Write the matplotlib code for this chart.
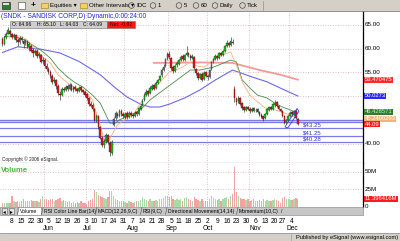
import numpy as np
import pandas as pd
import matplotlib
matplotlib.use("Agg")
import matplotlib.pyplot as plt
from matplotlib.patches import Rectangle, Circle, Polygon

plt.rcParams['font.family'] = ['Liberation Sans', 'DejaVu Sans']

# trading days May 1 - Dec 7 2006
holidays = ['2006-05-29', '2006-07-04', '2006-09-04', '2006-11-23']
days = pd.bdate_range('2006-05-01', '2006-12-07')
days = days[~days.isin(pd.to_datetime(holidays))]

opens = [
    62.0, 61.0, 62.4, 63.2, 63.8,   # May 1
    63.0, 62.4, 62.9, 61.8, 61.4,   # May 8
    62.3, 61.7, 61.1, 61.5, 60.4,   # May 15
    60.6, 59.7, 59.1, 59.6, 58.5,   # May 22
    58.6, 57.3, 57.7, 56.4,         # May 30
    55.7, 55.1, 54.3, 53.2, 53.3,   # Jun 5
    52.2, 50.4, 50.3, 51.5, 51.3,   # Jun 12
    52.1, 51.4, 52.4, 51.2, 51.9,   # Jun 19
    51.5, 51.0, 51.9, 51.2, 50.9,   # Jun 26
    50.4, 49.6, 48.4, 48.1,         # Jul 3
    47.3, 44.8, 45.9, 43.4, 41.2,   # Jul 10
    39.7, 40.5, 41.9, 40.2, 38.0,   # Jul 17
    44.0, 45.4, 46.3, 45.9, 46.9,   # Jul 24
    46.3, 45.6, 46.4, 45.6, 46.5,   # Jul 31
    46.1, 45.8, 46.6, 46.3, 47.2,   # Aug 7
    48.1, 49.2, 50.2, 51.0, 50.6,   # Aug 14
    51.6, 52.3, 51.7, 52.7, 53.4,   # Aug 21
    54.4, 55.6, 56.3, 57.9, 58.9,   # Aug 28
    58.0, 56.1, 55.2, 56.5,         # Sep 5
    56.8, 57.7, 58.4, 57.7, 58.7,   # Sep 11
    59.1, 58.5, 58.1, 58.2, 55.8,   # Sep 18
    54.9, 53.9, 54.7, 53.6, 55.0,   # Sep 25
    54.2, 54.0, 55.7, 57.3, 57.9,   # Oct 2
    58.4, 58.1, 59.1, 58.6, 59.6,   # Oct 9
    60.6, 61.1, 60.7, 61.5, 51.6,   # Oct 16
    49.4, 48.9, 49.7, 48.5, 47.6,   # Oct 23
    47.1, 47.7, 47.3, 46.9, 47.4,   # Oct 30
    47.0, 47.2, 46.6, 46.1, 45.7,   # Nov 6
    45.4, 46.3, 47.1, 47.7, 47.2,   # Nov 13
    48.2, 48.7, 48.0, 47.2,         # Nov 20
    46.9, 45.8, 44.5, 45.0, 45.9,   # Nov 27
    46.6, 46.1, 46.9, 45.2,         # Dec 4
]
closes = [
    61.0, 62.4, 63.2, 63.9, 63.0,
    62.5, 62.8, 61.9, 61.5, 62.2,
    61.8, 61.0, 61.6, 60.5, 60.9,
    59.6, 59.0, 59.5, 58.4, 58.8,
    57.2, 57.6, 56.3, 55.8,
    55.0, 54.2, 53.0, 53.4, 52.1,
    50.6, 50.2, 51.6, 51.2, 52.0,
    51.5, 52.4, 51.3, 51.8, 51.4,
    51.0, 51.8, 51.2, 50.8, 50.3,
    49.5, 48.3, 48.0, 47.2,
    45.0, 45.8, 43.4, 41.2, 39.6,
    40.6, 41.8, 40.3, 38.2, 40.4,
    45.2, 46.4, 45.8, 46.8, 46.2,
    45.7, 46.3, 45.5, 46.4, 46.0,
    45.9, 46.5, 46.2, 47.4, 47.9,
    49.0, 50.3, 50.9, 50.5, 51.8,
    52.2, 51.6, 52.8, 53.3, 54.2,
    55.5, 56.2, 57.8, 58.8, 58.2,
    56.0, 55.3, 56.4, 57.0,
    57.6, 58.3, 57.8, 58.6, 59.0,
    58.6, 58.0, 58.5, 56.0, 54.8,
    53.8, 54.6, 53.5, 54.9, 54.3,
    54.0, 55.6, 57.2, 57.8, 58.5,
    58.0, 59.0, 58.7, 59.5, 60.5,
    61.2, 60.8, 61.6, 61.3, 49.5,
    48.8, 49.6, 48.4, 47.5, 47.0,
    47.6, 47.2, 46.8, 47.3, 46.9,
    47.1, 46.6, 46.0, 45.6, 45.2,
    46.3, 47.2, 47.6, 47.3, 48.3,
    48.6, 48.0, 47.3, 46.8,
    45.8, 44.4, 44.9, 45.9, 46.5,
    46.2, 46.8, 45.3, 44.09,
]
highs = [
    62.5, 62.7, 63.6, 64.5, 64.1,
    63.4, 63.3, 63.1, 62.2, 62.6,
    62.7, 62.0, 62.1, 61.8, 61.4,
    60.9, 60.1, 60.0, 59.9, 59.4,
    58.9, 58.2, 58.0, 56.9,
    56.2, 55.6, 54.6, 54.0, 53.6,
    52.5, 51.0, 51.9, 52.0, 52.4,
    52.6, 52.8, 52.7, 52.2, 52.3,
    51.8, 52.2, 52.1, 51.5, 51.3,
    50.6, 49.9, 48.9, 48.5,
    47.5, 46.3, 46.1, 43.6, 41.5,
    41.0, 42.2, 42.1, 40.5, 40.7,
    45.6, 46.8, 46.7, 47.2, 47.3,
    46.6, 46.7, 46.8, 46.8, 46.9,
    46.5, 46.9, 46.9, 47.7, 48.3,
    49.4, 50.6, 51.4, 51.3, 52.1,
    52.6, 52.6, 53.1, 53.7, 54.5,
    55.9, 56.7, 58.1, 59.3, 59.6,
    58.3, 56.5, 56.7, 57.4,
    57.9, 58.6, 58.8, 58.9, 60.5,
    59.4, 58.9, 58.8, 58.4, 56.0,
    55.1, 54.8, 55.0, 55.2, 55.3,
    54.6, 55.8, 57.5, 58.1, 58.8,
    58.7, 59.3, 59.4, 59.8, 60.8,
    61.8, 61.5, 62.4, 62.0, 52.1,
    49.9, 50.0, 49.9, 48.7, 47.9,
    47.9, 48.0, 47.6, 47.6, 47.6,
    47.5, 47.4, 46.8, 46.4, 45.9,
    46.5, 47.4, 47.8, 47.9, 48.5,
    49.2, 48.9, 48.2, 47.4,
    47.0, 46.0, 45.2, 46.1, 46.8,
    46.9, 47.1, 47.2, 45.4,
]
lows = [
    60.5, 60.8, 62.0, 63.0, 62.7,
    62.0, 62.0, 61.5, 60.6, 61.0,
    61.4, 60.2, 60.8, 60.1, 59.6,
    59.2, 58.3, 58.6, 58.0, 58.1,
    56.9, 56.8, 56.0, 55.3,
    54.6, 53.8, 52.6, 52.7, 51.6,
    50.3, 49.2, 50.0, 50.8, 51.0,
    51.1, 51.2, 51.0, 50.8, 51.0,
    50.6, 50.8, 50.9, 50.4, 49.9,
    49.2, 48.0, 47.6, 46.9,
    44.6, 44.5, 43.1, 40.9, 39.3,
    39.1, 40.2, 39.9, 37.4, 37.6,
    43.7, 45.0, 45.4, 45.6, 45.9,
    45.3, 45.2, 45.1, 45.3, 45.6,
    45.4, 45.6, 45.8, 46.1, 47.0,
    47.9, 48.9, 50.0, 50.1, 50.4,
    51.2, 51.3, 51.5, 52.5, 53.1,
    54.1, 55.3, 56.1, 57.6, 57.9,
    55.6, 54.9, 55.0, 56.2,
    56.5, 57.4, 57.5, 57.5, 58.4,
    58.2, 57.7, 57.8, 55.7, 54.4,
    53.3, 53.6, 53.2, 53.4, 54.0,
    53.5, 53.9, 55.5, 57.0, 57.6,
    57.7, 57.9, 58.4, 58.4, 59.4,
    60.3, 60.4, 60.5, 60.9, 48.8,
    48.2, 48.6, 48.1, 47.1, 46.6,
    46.8, 47.0, 46.5, 46.6, 46.6,
    46.7, 46.4, 45.7, 45.3, 44.7,
    45.2, 46.1, 46.9, 47.0, 47.1,
    47.8, 47.8, 47.1, 46.6,
    45.6, 44.1, 44.2, 44.8, 45.6,
    45.9, 45.9, 45.1, 43.9,
]
# volume, millions of shares
volumes = [
    5, 6, 5, 6, 5,
    15, 8, 7, 9, 7,
    8, 12, 8, 9, 8,
    10, 9, 8, 9, 7,
    12, 16, 10, 11,
    10, 11, 12, 9, 10,
    12, 13, 9, 10, 8,
    7, 8, 6, 7, 6,
    7, 6, 8, 6, 5,
    4, 9, 10, 12,
    24, 21, 17, 15, 14,
    13, 12, 14, 23, 22,
    16, 12, 10, 9, 8,
    8, 7, 6, 8, 7,
    6, 7, 8, 9, 10,
    14, 11, 10, 9, 11,
    8, 9, 10, 9, 11,
    12, 13, 15, 16, 14,
    15, 12, 10, 11,
    10, 11, 9, 13, 14,
    12, 10, 9, 14, 12,
    10, 9, 11, 8, 9,
    9, 12, 15, 13, 11,
    10, 12, 9, 11, 13,
    14, 12, 15, 18, 56,
    21, 15, 13, 12, 11,
    10, 12, 9, 10, 11,
    9, 8, 10, 9, 11,
    9, 10, 8, 9, 10,
    12, 10, 9, 5,
    13, 14, 11, 12, 10,
    10, 11, 13, 11.396416,
]

# moving averages (day index, value)
blue_pos = [0, 8, 20, 30, 40, 51, 59, 65, 72, 77, 82, 87, 95, 103, 111, 120, 129, 138, 147, 154]
blue_val = [59.2, 60.4, 59.9, 59.1, 57.3, 54.5, 51.7, 49.8, 48.3, 47.7, 47.7, 48.3, 49.6, 51.3,
            53.4, 55.5, 54.2, 53.0, 51.3, 50.0273]
red_pos = [79, 103, 120, 134, 145, 154]
red_val = [57.0, 57.1, 57.0, 55.5, 54.5, 53.470475]
green_pos = [1, 7, 12, 14, 20, 25, 29, 34, 38, 42, 47, 51, 54, 56, 59, 61, 67, 72, 77, 82, 86,
             93, 98, 103, 110, 119, 122, 125, 129, 133, 138, 142, 146, 150, 154]
green_val = [62.5, 62.5, 61.8, 61.2, 59.7, 58.0, 55.9, 54.0, 52.8, 51.9, 50.2, 48.5, 46.0, 44.3,
             44.3, 45.0, 46.0, 47.1, 49.2, 50.7, 51.9, 54.0, 55.5, 55.5, 56.1, 57.6, 57.2, 53.4,
             51.7, 50.2, 49.6, 48.5, 47.7, 47.1, 46.4]
orange_pos = [3, 9, 13, 17, 21, 25, 29, 34, 38, 41, 44, 47, 49, 51, 53, 55, 57, 60, 65, 69, 73,
              77, 82, 87, 93, 98, 101, 105, 109, 113, 119, 122, 125, 129, 133, 137, 142, 146, 150, 154]
orange_val = [62.7, 62.7, 61.8, 60.1, 58.2, 57.0, 54.5, 52.8, 51.7, 51.3, 50.7, 49.2, 46.4, 43.9,
              40.7, 40.3, 41.8, 43.9, 45.4, 46.6, 49.2, 50.9, 52.8, 55.1, 55.9, 57.2, 56.4, 56.1,
              57.2, 58.5, 59.3, 56.6, 53.0, 50.2, 48.8, 47.5, 47.1, 46.6, 46.0, 45.24]

# support lines (as drawn) and their labels, plus the drawn channel
support_levels = [44.9, 44.55, 43.25, 41.65, 40.28]
support_labels = ['', '', '$43.25', '$41.25', '$40.28']
channel_pos = [147.3, 153.6, 154.6, 148.8]
channel_val = [43.5, 47.4, 46.8, 43.3]

ohlc_text = ['O: 64.96', 'H: 65.10', 'L: 64.03', 'C: 64.09']
ohlc_x = [12, 37, 60, 83]

tabs = ['Volume', 'RSI Color Line Bar(14)', 'MACD(12,26,9,C)', 'RSI(9,C)',
        'Directional Movement(14,14)', 'Momentum(10,C)', '/']
tab_x = [20, 44, 98, 143, 168, 239, 281]

W, H = 400, 241
fig = plt.figure(figsize=(W / 100, H / 100), dpi=100)
fig.patch.set_facecolor('white')


def px_axes(x0, y0, x1, y1, **kw):
    return fig.add_axes([x0 / W, 1 - y1 / H, (x1 - x0) / W, (y1 - y0) / H], **kw)


ax = px_axes(0, 11, 363, 163)
axv = px_axes(0, 163, 363, 207)
pos = np.arange(len(days))
o, c, h, l = map(np.array, (opens, closes, highs, lows))
up = c >= o

grid_col = '#dba8a8'
month_edges = [i - 0.5 for i in range(1, len(days)) if days[i].month != days[i - 1].month]

for a in (ax, axv):
    a.set_xlim(-1.26, 188.0)
    a.set_xticks(month_edges)
    a.tick_params(length=0, labelbottom=False, labelleft=False)
    a.grid(True, color=grid_col, linestyle=(0, (1, 2)), linewidth=0.6)
    a.set_axisbelow(True)
    for s in ('top', 'left'):
        a.spines[s].set_visible(False)
    a.spines['right'].set_linewidth(0.9)

ax.set_ylim(35.89, 67.95)
ax.set_yticks([40, 45, 50, 55, 60, 65])
ax.spines['bottom'].set_linewidth(0.8)
axv.set_ylim(0, 62.3)
axv.set_yticks([25, 50])
axv.spines['bottom'].set_visible(False)

# support levels
for lev, lab in zip(support_levels, support_labels):
    ax.axhline(lev, color='#7b7be8', lw=0.9, zorder=1)
    if lab:
        ax.text(156.5, lev + 0.08, lab, color='#3535c8', fontsize=4.4, va='bottom', ha='left')
ax.fill_between([-2, 190], support_levels[1], support_levels[0], color='#dcdcfa', zorder=0.9)

# moving averages
ax.plot(blue_pos, blue_val, color='#6a6af0', lw=0.8, zorder=2)
ax.plot(red_pos, red_val, color='#f29a9a', lw=1.3, zorder=2)
ax.plot(green_pos, green_val, color='#4a8a4a', lw=0.6, zorder=2)
ax.plot(orange_pos, orange_val, color='#f7b27a', lw=0.6, zorder=2)

# candles
ax.vlines(pos, l, h, color='#404040', lw=0.5, zorder=3)
ax.bar(pos, np.abs(c - o), bottom=np.minimum(o, c), width=0.85,
       color=np.where(up, '#10c810', '#f01010'), edgecolor='#202020', linewidth=0.25, zorder=4)

ax.add_patch(Polygon(list(zip(channel_pos, channel_val)), closed=True, fill=False,
                     ec='#3a3ae0', lw=0.6, zorder=5))

# volume
axv.bar(pos, volumes, width=0.7, color=np.where(up, '#a6dca6', '#f4a2a2'), zorder=2)

# right axis labels
yt = ax.get_yaxis_transform()
for v in (65, 60, 55, 40):
    ax.text(1.004, v, '%.2f' % v, transform=yt, fontsize=4.5, va='center', ha='left', clip_on=False)
price_tags = [('53.470475', red_val[-1], '#ff2a2a', 'white'),
              ('50.0273', blue_val[-1], '#2a2aff', 'white'),
              ('46.428571', green_val[-1] + 0.3, '#2e7d32', '#c8f0c8'),
              ('45.2400293', orange_val[-1], '#f7b27a', 'white'),
              ('44.09', closes[-1], '#ff1a1a', 'white')]
for txt, v, bg, fg in price_tags:
    ax.text(1.004, v, txt, transform=yt, fontsize=4.2, va='center', ha='left', color=fg,
            clip_on=False, bbox=dict(boxstyle='square,pad=0.1', fc=bg, ec='none'))

yv = axv.get_yaxis_transform()
for v, t in ((50, '50M'), (25, '25M'), (0, '0')):
    axv.text(1.004, v, t, transform=yv, fontsize=4.5, va='center', ha='left', clip_on=False)
axv.text(1.004, volumes[-1], '%.6fM' % volumes[-1], transform=yv, fontsize=4.2, va='center',
         ha='left', color='white', clip_on=False,
         bbox=dict(boxstyle='square,pad=0.1', fc='#ff1a1a', ec='none'))

# date labels
week_first = [i for i in range(1, len(days)) if days[i].weekday() < days[i - 1].weekday()]
prev_month = days[week_first[0]].month
for i in week_first:
    axv.annotate(str(days[i].day), xy=(i, 0), xycoords=('data', 'axes fraction'),
                 xytext=(0, -10.1), textcoords='offset points', ha='center', va='center',
                 fontsize=4.8, annotation_clip=False)
    if days[i].month != prev_month:
        axv.annotate(days[i].strftime('%b'), xy=(i, 0), xycoords=('data', 'axes fraction'),
                     xytext=(0, -15.2), textcoords='offset points', ha='center', va='center',
                     fontsize=4.8, annotation_clip=False)
        prev_month = days[i].month

# window chrome in pixel coordinates
ov = fig.add_axes([0, 0, 1, 1], zorder=10)
ov.set_xlim(0, W)
ov.set_ylim(H, 0)
ov.axis('off')
ov.patch.set_alpha(0)

ov.add_patch(Rectangle((0, 0), W, 10.5, fc='#d4d0c8', ec='none'))
ov.plot([0, W], [10.5, 10.5], color='#808080', lw=0.6)
ov.add_patch(Rectangle((1.5, 1.5), 8, 7.5, fc='#2f7a3a', ec='#202020', lw=0.4))
ov.add_patch(Rectangle((2.5, 3), 6, 1.5, fc='#e0e0e0', ec='none'))
ov.add_patch(Rectangle((18, 2), 7, 6.5, fc='white', ec='#404040', lw=0.4))
ov.text(33, 5.5, '+', fontsize=6, fontweight='bold', ha='center', va='center')
for fx in (41, 80):
    ov.add_patch(Rectangle((fx, 2.8), 6.5, 5, fc='#f0d264', ec='#9a7a20', lw=0.4))
ov.text(50, 5.6, 'Equities \u25be', fontsize=4.4, va='center')
ov.text(89, 5.6, 'Other Intervals \u25be', fontsize=4.4, va='center')
for cx, t in ((131.5, 'IDC'), (153, '1'), (179, '5'), (196, '60'), (215, 'Daily'), (242.5, 'Tick')):
    ov.add_patch(Circle((cx, 5.5), 2.8, fc='none', ec='#404040', lw=0.45))
    ov.text(cx + 4.5, 5.6, t, fontsize=4.4, va='center')
ov.plot([263, 263], [1, 10], color='#909090', lw=0.5)

ov.text(1, 16, '(SNDK - SANDISK CORP,D) Dynamic,0:00:24:00', color='#2626e6', fontsize=4.8,
        va='center')
ov.add_patch(Rectangle((10, 21), 97, 7, fc='#cfcfcf', ec='#707070', lw=0.4))
for tx, t in zip(ohlc_x, ohlc_text):
    ov.text(tx, 24.6, t, fontsize=3.6, va='center')
ov.add_patch(Rectangle((107, 21), 28, 7, fc='#ff1414', ec='#707070', lw=0.4))
ov.text(121, 24.6, 'Net: -0.92', fontsize=3.6, va='center', ha='center', color='#300000')

ov.text(2, 159.5, 'Copyright \u00a9 2006 eSignal.', fontsize=3.4, va='center', color='#202020')
ov.text(1, 170.5, 'Volume', fontsize=5.5, va='center', color='#3cc03c', fontweight='bold')

# tab bar
ov.add_patch(Rectangle((0, 207), 363, 8, fc='#c6c6c6', ec='#808080', lw=0.4))
ov.add_patch(Rectangle((1.5, 208), 5.5, 6, fc='#e4e4e4', ec='#606060', lw=0.4))
ov.add_patch(Rectangle((8.5, 208), 5.5, 6, fc='#e4e4e4', ec='#606060', lw=0.4))
ov.text(4.2, 211.2, '\u25c2', fontsize=4, ha='center', va='center')
ov.text(11.2, 211.2, '\u25b8', fontsize=4, ha='center', va='center')
ov.add_patch(Rectangle((17, 207), 24, 8, fc='white', ec='#808080', lw=0.4))
for tx, t in zip(tab_x, tabs):
    ov.text(tx, 211.3, t, fontsize=3.7, va='center')
    if t != '/':
        ov.plot([tx - 2.5, tx - 1], [214.5, 207.5], color='#505050', lw=0.4)

# status bar
ov.add_patch(Rectangle((0, 232.5), W, 8.5, fc='#d4d0c8', ec='none'))
ov.plot([0, W], [232.5, 232.5], color='#909090', lw=0.5)
ov.plot([291, 291], [233.5, 240.5], color='#a0a0a0', lw=0.5)
ov.text(398, 237, 'Published by eSignal (www.esignal.com)', fontsize=4.1, ha='right', va='center')

fig.savefig('out.png', dpi=100)
